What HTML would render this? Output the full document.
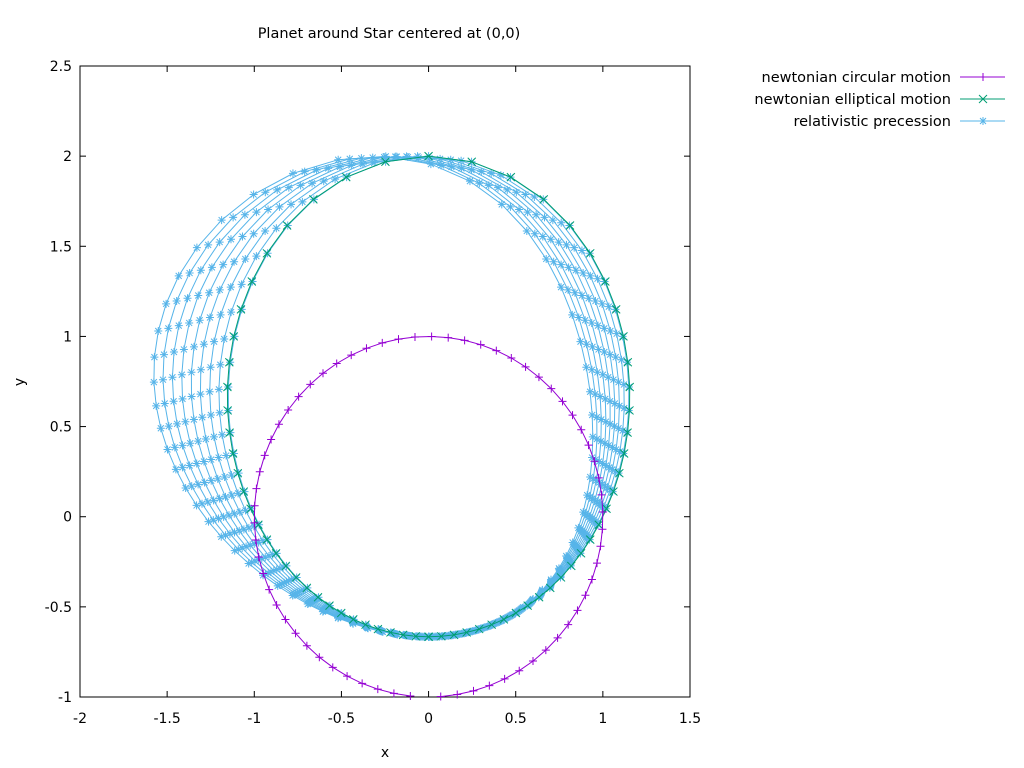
<!DOCTYPE html>
<html><head><meta charset="utf-8"><style>
body{margin:0;background:#fff}
svg{display:block;font-family:"DejaVu Sans","Liberation Sans",sans-serif}
</style></head><body>
<svg id="chart" width="1024" height="768" viewBox="0 0 1024 768">
<rect width="1024" height="768" fill="#fff"/>
<text x="389" y="38" font-size="14.5" text-anchor="middle">Planet around Star centered at (0,0)</text>
<text x="385" y="757" font-size="14" text-anchor="middle">x</text>
<text x="24" y="382" font-size="14" text-anchor="middle" transform="rotate(-90 24 382)">y</text>
<g id="axes"></g>
<g id="series"></g>
<g id="legend"></g>
</svg>
<script>
const xTicks=[-2,-1.5,-1,-0.5,0,0.5,1,1.5];
const yTicks=[-1,-0.5,0,0.5,1,1.5,2,2.5];
const xTickLabels=["-2","-1.5","-1","-0.5","0","0.5","1","1.5"];
const yTickLabels=["-1","-0.5","0","0.5","1","1.5","2","2.5"];
// circular orbit: radius, start/end angle (deg), number of points
const circleRadius=1;
const circleStartDeg=-86;
const circleEndDeg=264;
const circlePoints=64;
// elliptical orbit parameters
const ellipseSemiMajor=1.333;
const ellipseSemiMinor=1.155;
const ellipseCenterY=0.667;
const ellipseEcc=0.55;
const ellipsePoints=64;
// relativistic precession: per-orbit half-width, mid shift, top shift, sampling phase
const precB=[1.15,1.163,1.175,1.188,1.2,1.213,1.225,1.238,1.25];
const precMid=[0,-0.021,-0.043,-0.064,-0.085,-0.106,-0.128,-0.149,-0.17];
const precTop=[0,-0.038,-0.075,-0.113,-0.15,-0.188,-0.225,-0.263,-0.3];
const precPhase=[0,0.1,0.2,0.3,0.4,0.5,0.6,0.7,0.8];

const NS="http://www.w3.org/2000/svg";
const L=80,R=690,T=66,B=697;
const X=v=>L+(v+2)/3.5*(R-L);
const Y=v=>B-(v+1)/3.5*(B-T);
function el(tag,attrs,parent){const e=document.createElementNS(NS,tag);for(const k in attrs)e.setAttribute(k,attrs[k]);parent.appendChild(e);return e;}
const axes=document.getElementById('axes');
const frame=el('rect',{x:L,y:T,width:R-L,height:B-T,fill:'none',stroke:'#000','stroke-width':1},axes);


xTicks.forEach((v,i)=>{
  const x=X(v);
  el('line',{x1:x,y1:B,x2:x,y2:B-6,stroke:'#000'},axes);
  el('line',{x1:x,y1:T,x2:x,y2:T+6,stroke:'#000'},axes);
  const t=el('text',{x:x,y:B+26,'font-size':14,'text-anchor':'middle'},axes);
  t.textContent=xTickLabels[i];
  
  
});
yTicks.forEach((v,i)=>{
  const y=Y(v);
  el('line',{x1:L,y1:y,x2:L+6,y2:y,stroke:'#000'},axes);
  el('line',{x1:R,y1:y,x2:R-6,y2:y,stroke:'#000'},axes);
  const t=el('text',{x:L-8,y:y+5,'font-size':14,'text-anchor':'end'},axes);
  t.textContent=yTickLabels[i];
  
  
});
function marker(type,x,y,c,g){
  const s=4;let d;
  if(type==='plus')d=`M${x-s},${y}H${x+s}M${x},${y-s}V${y+s}`;
  else if(type==='cross')d=`M${x-s},${y-s}L${x+s},${y+s}M${x-s},${y+s}L${x+s},${y-s}`;
  else d=`M${x-s},${y}H${x+s}M${x},${y-s}V${y+s}M${x-3},${y-3}L${x+3},${y+3}M${x-3},${y+3}L${x+3},${y-3}`;
  el('path',{d:d,stroke:c,'stroke-width':1,fill:'none'},g);
}
function drawSeries(pts,color,type,name){
  const g=el('g',{},document.getElementById('series'));
  
  
  el('polyline',{points:pts.map(p=>X(p[0]).toFixed(1)+','+Y(p[1]).toFixed(1)).join(' '),fill:'none',stroke:color,'stroke-width':1},g);
  pts.forEach(p=>marker(type,X(p[0]),Y(p[1]),color,g));
}
function anomaly(M,e){let E=M;for(let k=0;k<30;k++)E-=(E+e*Math.sin(E)-M)/(1+e*Math.cos(E));return E;}
precB.forEach((b,i)=>{
  const pts=[];
  for(let k=0;k<=ellipsePoints;k++){
    const kk=(k===ellipsePoints)?0:k+precPhase[i];
    const t=anomaly(2*Math.PI*kk/ellipsePoints,ellipseEcc);
    const s=Math.sin(t);
    pts.push([b*s+precMid[i]*s*s+precTop[i]*(1-Math.cos(t))/2, ellipseCenterY-ellipseSemiMajor*Math.cos(t)]);
  }
  drawSeries(pts,'#56b4e9','star','precession-orbit-'+(i+1));
});
{
  const pts=[];
  for(let k=0;k<=ellipsePoints;k++){
    const t=anomaly(2*Math.PI*k/ellipsePoints,ellipseEcc);
    pts.push([ellipseSemiMinor*Math.sin(t),ellipseCenterY-ellipseSemiMajor*Math.cos(t)]);
  }
  drawSeries(pts,'#009e73','cross','elliptical-orbit');
}
{
  const pts=[];
  for(let k=0;k<=circlePoints;k++){
    const a=(circleStartDeg+(circleEndDeg-circleStartDeg)*k/circlePoints)*Math.PI/180;
    pts.push([circleRadius*Math.cos(a),circleRadius*Math.sin(a)]);
  }
  drawSeries(pts,'#9400d3','plus','circular-orbit');
}
const legendLabels=["newtonian circular motion","newtonian elliptical motion","relativistic precession"];
const legendColors=['#9400d3','#009e73','#56b4e9'];
const legendMarkers=['plus','cross','star'];
const lg=document.getElementById('legend');
legendLabels.forEach((lab,i)=>{
  const y=77+i*22;
  const g=el('g',{},lg);
  
  
  const t=el('text',{x:951,y:y+5,'font-size':14.5,'text-anchor':'end'},g);
  t.textContent=lab;
  el('line',{x1:960,y1:y,x2:1005,y2:y,stroke:legendColors[i]},g);
  marker(legendMarkers[i],983,y,legendColors[i],g);
});
</script>
</body></html>
